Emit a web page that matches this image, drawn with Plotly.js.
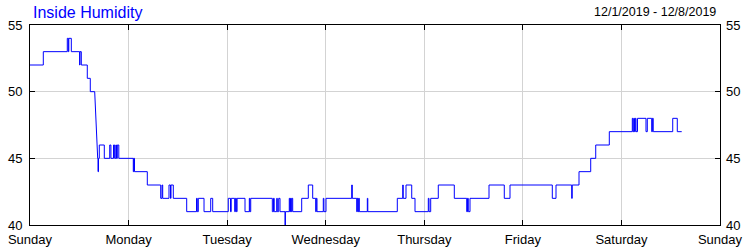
<!DOCTYPE html>
<html>
<head>
<meta charset="utf-8">
<script src="https://cdn.plot.ly/plotly-3.0.1.min.js"></script>
<style>html,body{margin:0;padding:0;background:#fff;}#chart{width:750px;height:250px;}</style>
</head>
<body>
<div id="chart"></div>
<script>
// Hours since Sunday 00:00 at which the reading changes, and the new reading (%)
const hours = [0, 3.24, 9.08, 9.33, 9.45, 10.06, 12.08, 12.17, 12.49, 13.95, 14.68, 15.75, 16.48, 16.56, 16.68, 16.87,
  18.09, 19.41, 19.70, 20.33, 20.60, 20.89, 21.06, 21.26, 21.62, 25.15, 25.27, 25.44, 28.56, 31.82, 32.14, 32.31,
  33.84, 34.21, 34.33, 34.89, 38.15, 40.54, 40.73, 40.98, 42.37, 44.00, 44.48, 48.28, 48.82, 48.99, 49.84, 50.01,
  50.25, 50.42, 52.35, 53.40, 53.52, 53.74, 59.00, 59.29, 59.46, 60.07, 60.21, 60.55, 60.87, 62.09, 62.19, 63.13,
  63.26, 63.43, 63.60, 63.74, 63.96, 66.15, 67.76, 68.83, 69.56, 69.71, 69.88, 71.41, 71.56, 72.07, 78.33, 78.47,
  79.55, 79.69, 79.86, 80.03, 80.18, 82.13, 82.25, 89.43, 90.75, 90.87, 91.55, 92.94, 93.74, 96.98, 97.15, 97.56,
  99.41, 103.31, 106.33, 106.52, 106.72, 107.13, 111.76, 115.48, 116.87, 127.17, 128.07, 131.89, 132.02, 133.67,
  136.52, 137.74, 141.05, 146.65, 146.82, 147.01, 147.18, 147.38, 147.55, 147.91, 149.98, 150.30, 151.37, 151.54,
  151.74, 156.49, 157.60, 158.68];
const humidity = [52, 53, 54, 53, 54, 53, 52, 53, 52, 51, 50, 50, 45, 44, 45, 46,
  45, 46, 45, 46, 45, 46, 45, 46, 45, 44, 45, 44, 43, 42, 43, 42,
  43, 42, 43, 42, 41, 42, 41, 42, 41, 42, 41, 42, 41, 42, 41, 42,
  41, 42, 41, 42, 41, 42, 41, 42, 41, 42, 41, 42, 41, 40, 41, 42,
  41, 42, 41, 42, 41, 42, 43, 42, 41, 42, 41, 42, 41, 42, 43, 42,
  41, 42, 41, 42, 41, 42, 41, 42, 43, 42, 43, 42, 41, 42, 41, 42,
  43, 42, 41, 42, 41, 42, 43, 42, 43, 42, 43, 42, 43, 44,
  45, 46, 47, 48, 47, 48, 47, 48, 47, 48, 47, 48, 47, 48,
  47, 48, 47, 47];
// Changes reached by a sloped segment (gap in readings) instead of a step
const rampEnds = [16.48];

const dayHours = [0, 24, 48, 72, 96, 120, 144, 168];
const dayLabels = ['Sunday', 'Monday', 'Tuesday', 'Wednesday', 'Thursday', 'Friday', 'Saturday', 'Sunday'];
const yTicks = [40, 45, 50, 55];

const xs = [hours[0]], ys = [humidity[0]];
for (let i = 1; i < hours.length; i++) {
  if (!rampEnds.includes(hours[i])) { xs.push(hours[i]); ys.push(humidity[i - 1]); }
  xs.push(hours[i]); ys.push(humidity[i]);
}

const font = 'Liberation Sans, Arial, sans-serif';
const axisCommon = {
  showline: true, linecolor: '#000', linewidth: 1,
  ticks: 'inside', ticklen: 5, tickcolor: '#000', tickwidth: 1,
  gridcolor: '#d3d3d3', gridwidth: 1, zeroline: false,
  tickfont: {family: font, size: 13, color: '#000'}, fixedrange: true
};

const data = [
  {x: xs, y: ys, type: 'scatter', mode: 'lines', line: {color: '#0000ff', width: 1}, hoverinfo: 'skip', showlegend: false},
  {x: [dayHours[0]], y: [yTicks[0]], type: 'scatter', mode: 'markers', marker: {opacity: 0}, yaxis: 'y2', hoverinfo: 'skip', showlegend: false}
];

const layout = {
  width: 750, height: 250,
  margin: {l: 30, r: 30, t: 25, b: 25, pad: 0},
  paper_bgcolor: '#fff', plot_bgcolor: '#fff',
  showlegend: false,
  title: {text: 'Inside Humidity', font: {family: font, size: 16, color: '#0000ff'},
    xref: 'container', x: 33 / 750, xanchor: 'left', yref: 'container', y: 1 - 12 / 250, yanchor: 'middle'},
  xaxis: Object.assign({}, axisCommon, {range: [0, 168], tickmode: 'array', tickvals: dayHours, ticktext: dayLabels, mirror: 'ticks', showgrid: true, ticklabelstandoff: 2}),
  yaxis: Object.assign({}, axisCommon, {range: [40, 55], tickmode: 'array', tickvals: yTicks, mirror: true, showgrid: true, ticklabelstandoff: 4}),
  yaxis2: Object.assign({}, axisCommon, {range: [40, 55], tickmode: 'array', tickvals: yTicks, overlaying: 'y', side: 'right', showline: false, showgrid: false, ticklabelstandoff: 5}),
  annotations: [{text: '12/1/2019 - 12/8/2019', xref: 'paper', yref: 'paper', x: 1, y: 1, xanchor: 'right', yanchor: 'bottom',
    xshift: -2, yshift: 4, showarrow: false, font: {family: font, size: 12.5, color: '#000'}}]
};

Plotly.newPlot('chart', data, layout, {staticPlot: true, displayModeBar: false});
</script>
</body>
</html>
